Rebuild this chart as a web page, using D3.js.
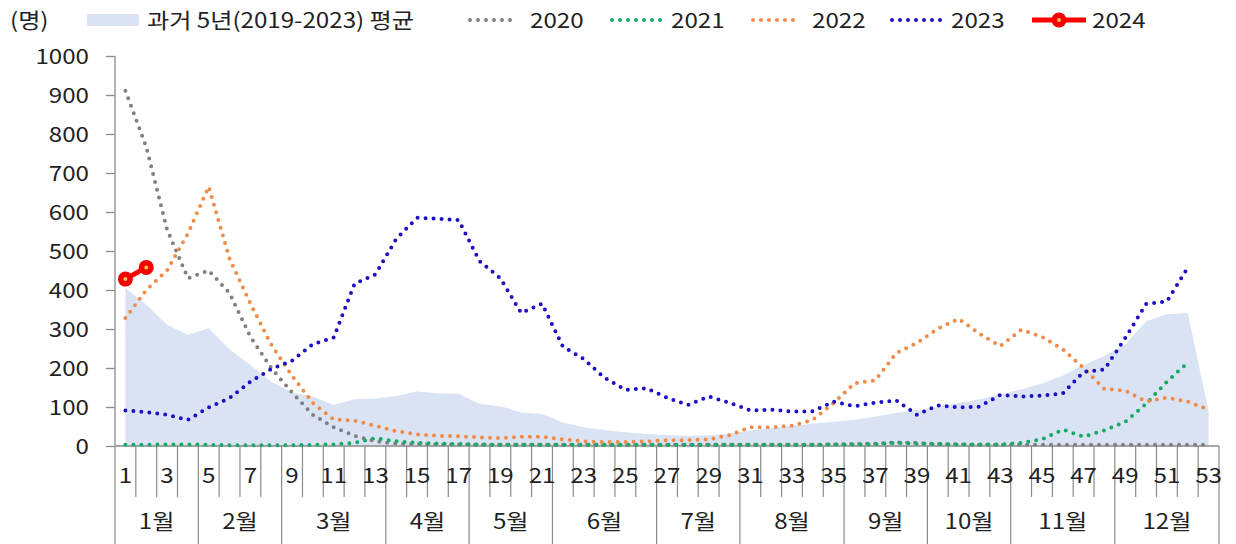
<!DOCTYPE html>
<html><head><meta charset="utf-8">
<script src="https://cdn.jsdelivr.net/npm/d3@7/dist/d3.min.js"></script>
<style>
body{margin:0;background:#fff;}
text{font-family:"Noto Sans CJK KR","Noto Sans",sans-serif;fill:#222;}
</style>
</head><body>
<svg id="c" width="1236" height="544"></svg>
<script>
// ---------- data ----------
const weeks = d3.range(1, 54);
const monthNames = ["1월","2월","3월","4월","5월","6월","7월","8월","9월","10월","11월","12월"];
const monthWeeks = [4,4,5,4,4,5,4,5,4,4,5,5];
const yTicks = [0,100,200,300,400,500,600,700,800,900,1000];
const weekLabels = weeks.filter(w => w % 2 === 1);

const avg5 = [405,362,311,285,302,248,208,165,137,127,
              105,120,122,128,140,135,134,108,102,86,
              82,60,48,41,35,31,28,26,27,32,
              40,46,52,57,62,67,75,85,92,100,
              110,120,132,145,160,180,208,231,260,320,
              338,341,90];
const y2020 = [911,767,555,430,450,392,280,200,137,80,
               48,26,12,6,5,4,4,3,3,3,
               3,3,3,3,3,3,3,3,3,3,
               3,3,3,3,4,5,6,9,8,5,
               4,3,3,3,3,3,3,3,3,3,3,3,3];
const y2021 = [3,3,4,4,3,2,2,2,2,3,
               4,8,20,12,8,6,5,4,3,3,
               3,3,3,3,3,3,3,3,3,3,
               3,3,3,3,4,4,5,8,6,5,
               4,4,4,8,17,42,24,40,62,108,165,214];
const y2022 = [328,400,450,545,665,480,365,260,180,110,
               68,65,52,38,30,26,25,22,20,24,
               24,17,12,10,10,12,15,15,17,28,
               48,48,52,67,110,161,168,238,264,301,
               326,288,256,298,280,248,200,146,142,114,
               124,114,93];
const y2023 = [91,87,80,67,99,123,165,197,219,261,
               278,416,440,531,585,583,579,474,430,341,
               365,255,223,175,144,148,124,105,127,111,
               91,93,88,89,114,102,111,117,80,104,
               99,101,131,127,129,135,190,196,277,364,371,457];
const y2024 = [428,458];

const legendNames = ["과거 5년(2019-2023) 평균","2020","2021","2022","2023","2024"];

// ---------- drawing ----------
const svg = d3.select("#c");
const FS = 21, SX = 1.15;
const x = d3.scaleBand().domain(weeks).range([115,1219]).padding(0);
const y = d3.scaleLinear().domain([0,1000]).range([446,56]);
const cx = w => x(w) + x.bandwidth()/2;
const axisCol = "#8a8a8a";

function label(g, tx, ty, str, anchor){
  return g.append("text")
    .attr("transform", `translate(${tx},${ty}) scale(${SX},1)`)
    .attr("text-anchor", anchor || "start")
    .attr("dy","0.36em")
    .style("font-size", FS+"px")
    .text(str);
}

// area
svg.append("path")
  .datum(avg5)
  .attr("fill","#dae3f3")
  .attr("d", d3.area().x((d,i)=>cx(weeks[i])).y0(y(0)).y1(d=>y(d)));

// y axis
const yAxis = svg.append("g").attr("transform","translate(115,0)")
  .call(d3.axisLeft(y).tickValues(yTicks).tickSize(9).tickFormat(""));
yAxis.selectAll("path,line").attr("stroke",axisCol).attr("stroke-width",1.3);
yAxis.select(".domain").attr("d","M0,"+y(1000)+"V"+y(0));
yTicks.forEach(v => label(svg, 89, y(v), String(v), "end"));

// x axis line
svg.append("line").attr("x1",115).attr("x2",1219).attr("y1",y(0)).attr("y2",y(0))
  .attr("stroke",axisCol).attr("stroke-width",1.3);

// category ticks
const boundaries = d3.range(0,54);
const monthBounds = [0];
monthWeeks.reduce((a,b)=>{monthBounds.push(a+b); return a+b;},0);
boundaries.forEach(b => {
  const xx = b < 53 ? x(weeks[b]) : x(53)+x.bandwidth();
  const isMonth = monthBounds.includes(b);
  svg.append("line").attr("x1",xx).attr("x2",xx)
    .attr("y1",y(0)).attr("y2", isMonth ? 544 : 497)
    .attr("stroke",axisCol).attr("stroke-width",1.2);
});
weekLabels.forEach(w => label(svg, cx(w), 475, String(w), "middle"));
let acc = 0;
monthNames.forEach((m,i) => {
  const a = x(weeks[acc]);
  const b = x(weeks[acc+monthWeeks[i]-1]) + x.bandwidth();
  acc += monthWeeks[i];
  label(svg, (a+b)/2, 521, m, "middle");
});

// dotted lines
const line = d3.line().x((d,i)=>cx(weeks[i])).y(d=>y(d));
const series = [
  {data:y2020, color:"#808080"},
  {data:y2021, color:"#1aa865"},
  {data:y2022, color:"#f08c4a"},
  {data:y2023, color:"#1c0fc6"}
];
series.forEach(s => {
  svg.append("path").datum(s.data)
    .attr("fill","none").attr("stroke",s.color)
    .attr("stroke-width",4).attr("stroke-linecap","round")
    .attr("stroke-dasharray","0 8")
    .attr("d", line);
});
// 2024
svg.append("path").datum(y2024)
  .attr("fill","none").attr("stroke","#ff0000").attr("stroke-width",5)
  .attr("d", line);
y2024.forEach((v,i) => {
  svg.append("circle").attr("cx",cx(weeks[i])).attr("cy",y(v)).attr("r",7.5).attr("fill","#f50000");
  svg.append("circle").attr("cx",cx(weeks[i])).attr("cy",y(v)).attr("r",2).attr("fill","#ffc04d");
});

// legend
const LY = 20;
label(svg, 10, LY, "(명)");
svg.append("rect").attr("x",87).attr("y",LY-6).attr("width",52).attr("height",12).attr("fill","#dae3f3");
label(svg, 147, LY, legendNames[0]);
const legPos = [[470,514,530],[612,661,671],[753,800,812],[892,941,951]];
series.forEach((s,i) => {
  const p = legPos[i];
  svg.append("line").attr("x1",p[0]).attr("x2",p[1]).attr("y1",LY).attr("y2",LY)
    .attr("stroke",s.color).attr("stroke-width",4).attr("stroke-linecap","round")
    .attr("stroke-dasharray","0 8");
  label(svg, p[2], LY, legendNames[i+1]);
});
svg.append("line").attr("x1",1032).attr("x2",1086).attr("y1",LY).attr("y2",LY)
  .attr("stroke","#ff0000").attr("stroke-width",5);
svg.append("circle").attr("cx",1059).attr("cy",LY).attr("r",7.5).attr("fill","#f50000");
svg.append("circle").attr("cx",1059).attr("cy",LY).attr("r",2).attr("fill","#ffc04d");
label(svg, 1092, LY, legendNames[5]);
</script>
</body></html>
